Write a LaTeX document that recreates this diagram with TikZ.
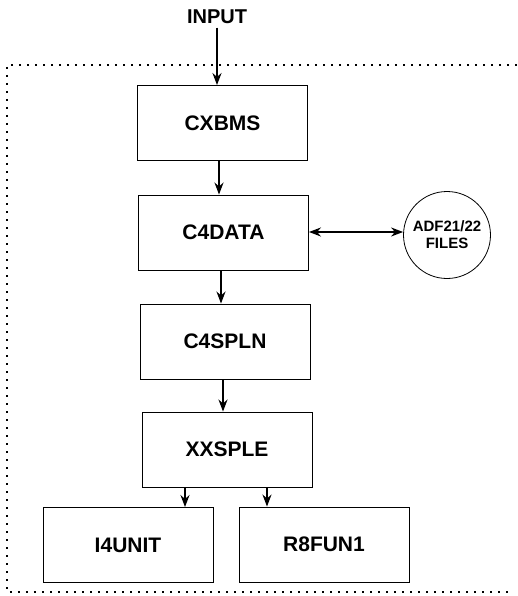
\documentclass[tikz,border=0pt]{standalone}
\usepackage{fontspec}
\setmainfont{Liberation Sans}
\usetikzlibrary{arrows.meta}

\tikzset{
	blk/.style={draw,line width=0.9pt,minimum width=170pt,minimum height=75pt,inner sep=0,font=\fontsize{21}{24}\selectfont\bfseries},
	fil/.style={draw,line width=0.8pt,circle,minimum size=87pt,inner sep=0,align=center,font=\fontsize{15}{17}\selectfont\bfseries},
	flow/.style={line width=1.6pt,-{Stealth[length=12pt,width=9pt]}}
}

\begin{document}
\begin{tikzpicture}[x=1pt,y=-1pt]
	\useasboundingbox (0,0) rectangle (517,596);
	% frame
	\draw[line width=1.4pt,dash pattern=on 2pt off 6pt] (517,65) -- (7,65) -- (7,592) -- (512,592);
	\node[font=\fontsize{20}{24}\selectfont\bfseries] (in) at (217,17) {INPUT};
	\node[blk] (cx) at (222.5,123) {CXBMS};
	\node[blk] (c4d) at (223.5,232.5) {C4DATA};
	\node[blk] (c4s) at (225,341.5) {C4SPLN};
	\node[blk] (xx) at (227,449.5) {XXSPLE};
	\node[blk] (i4) at (128,545) {I4UNIT};
	\node[blk] (r8) at (324,544.5) {R8FUN1};
	\node[fil] (adf) at (447,235) {ADF21/22\\FILES};
	\draw[flow] (in) -- (in |- cx.north);
	\draw[flow] (cx.south -| 219,0) -- (c4d.north -| 219,0);
	\draw[flow] (c4d.south -| 221,0) -- (c4s.north -| 221,0);
	\draw[flow] (c4s.south -| 223,0) -- (xx.north -| 223,0);
	\draw[flow] (xx.south -| 185,0) -- (i4.north -| 185,0);
	\draw[flow] (xx.south -| 267,0) -- (r8.north -| 267,0);
	\draw[flow,{Stealth[length=12pt,width=9pt]}-{Stealth[length=12pt,width=9pt]}] (c4d.east |- 0,232) -- (adf.west |- 0,232);
\end{tikzpicture}
\end{document}
